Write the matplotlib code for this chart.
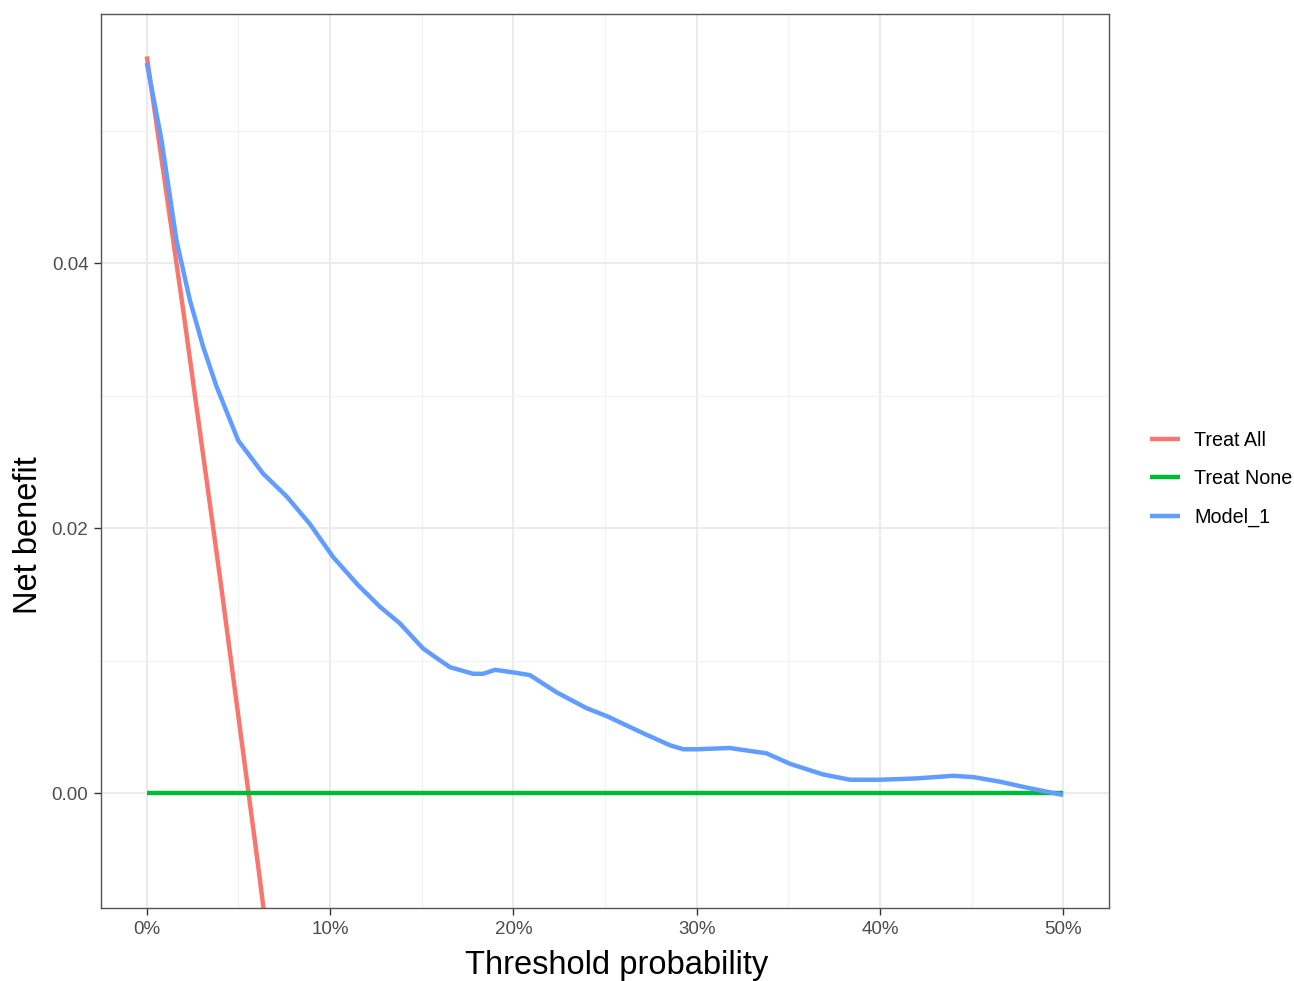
import matplotlib
matplotlib.use("Agg")
import matplotlib.pyplot as plt
from matplotlib.ticker import MultipleLocator, FuncFormatter

# threshold probabilities (fraction) and net benefit
treat_all_t = [0.0, 0.02, 0.04, 0.06, 0.08]
treat_all_nb = [0.0556, 0.0363, 0.0162, -0.0047, -0.0265]

treat_none_t = [0.0, 0.5]
treat_none_nb = [0.0, 0.0]

model_t = [0.0, 0.008, 0.0162, 0.0235, 0.0307, 0.038, 0.0499, 0.0635, 0.0762,
           0.089, 0.1017, 0.1152, 0.1272, 0.1381, 0.1508, 0.158, 0.1654, 0.178,
           0.1836, 0.19, 0.20, 0.209, 0.2236, 0.24, 0.251, 0.271, 0.2855,
           0.2928, 0.30, 0.318, 0.3328, 0.338, 0.351, 0.369, 0.3837, 0.40,
           0.42, 0.44, 0.451, 0.4656, 0.482, 0.50]
model_nb = [0.0551, 0.0493, 0.0417, 0.0372, 0.0337, 0.0307, 0.0266, 0.0241, 0.0224,
            0.0203, 0.0178, 0.0157, 0.01406, 0.0128, 0.0109, 0.0102, 0.0095, 0.0090,
            0.0090, 0.0093, 0.0091, 0.0089, 0.0076, 0.0064, 0.0058, 0.0045, 0.0036,
            0.0033, 0.0033, 0.0034, 0.0031, 0.0030, 0.0022, 0.0014, 0.0010, 0.0010,
            0.0011, 0.0013, 0.0012, 0.00085, 0.00035, -0.00015]

series = [
    ("Treat All", treat_all_t, treat_all_nb, "#F8766D"),
    ("Treat None", treat_none_t, treat_none_nb, "#00BA38"),
    ("Model_1", model_t, model_nb, "#619CFF"),
]

plt.rcParams["font.family"] = ["Liberation Sans", "DejaVu Sans"]

fig = plt.figure(figsize=(12.94, 9.81), dpi=100)
ax = fig.add_axes([101 / 1294, 73 / 981, 1008 / 1294, 894 / 981])

for name, t, nb, col in series:
    ax.plot(t, nb, color=col, lw=3.2, label=name,
            solid_capstyle="butt", solid_joinstyle="round")

ax.set_xlim(-0.025, 0.525)
ax.set_ylim(-0.00868, 0.0588)

ax.xaxis.set_major_locator(MultipleLocator(0.1))
ax.xaxis.set_minor_locator(MultipleLocator(0.05))
ax.yaxis.set_major_locator(MultipleLocator(0.02))
ax.yaxis.set_minor_locator(MultipleLocator(0.01))
ax.xaxis.set_major_formatter(FuncFormatter(lambda v, p: f"{v * 100:.0f}%"))
ax.yaxis.set_major_formatter(FuncFormatter(lambda v, p: f"{v:.2f}"))

ax.grid(True, which="major", color="#EBEBEB", lw=1.4)
ax.grid(True, which="minor", color="#F2F2F2", lw=0.9)
ax.set_axisbelow(True)
ax.tick_params(which="major", length=5, width=1.0, color="#333333",
               labelsize=13.5, labelcolor="#4D4D4D", pad=4)
ax.tick_params(which="minor", length=0)
for s in ax.spines.values():
    s.set_color("#555555")
    s.set_linewidth(1.0)

ax.set_xlabel("Threshold probability", fontsize=23.5)
ax.set_ylabel("Net benefit", fontsize=23.5)
ax.xaxis.set_label_coords(0.512, -0.064)
ax.yaxis.set_label_coords(-0.072, 0.417)
ax.xaxis.label.set_va("center")
ax.yaxis.label.set_va("center")

fig.legend(loc="center left", bbox_to_anchor=(1150 / 1294, (981 - 479) / 981),
           frameon=False, fontsize=14.2, handlelength=1.5, handletextpad=0.75,
           labelspacing=1.0, borderpad=0, borderaxespad=0)

fig.savefig("out.png", dpi=100)
